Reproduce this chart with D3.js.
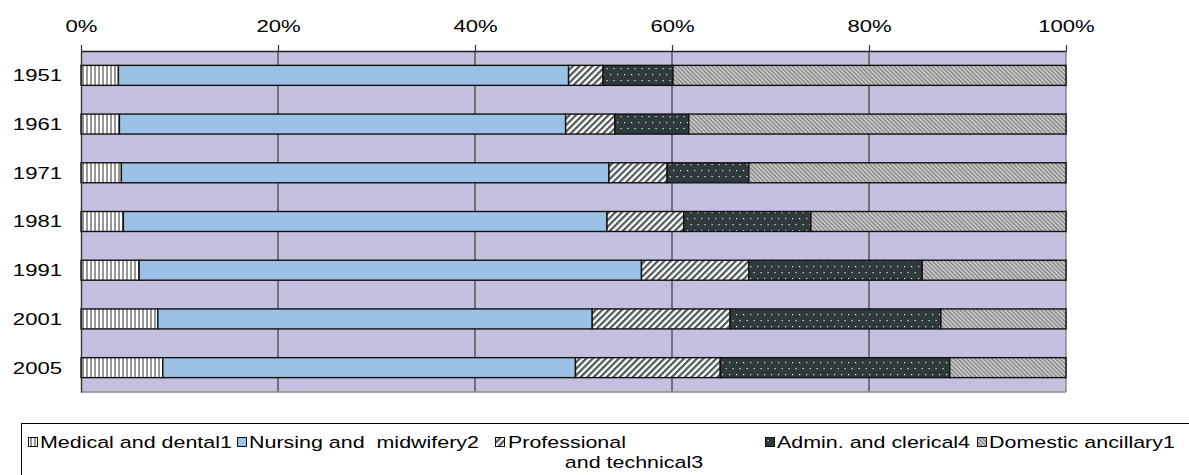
<!DOCTYPE html>
<html>
<head>
<meta charset="utf-8">
<script src="https://cdn.jsdelivr.net/npm/d3@7"></script>
<style>
  html, body { margin: 0; padding: 0; background: #fff; }
  svg { display: block; font-family: "Liberation Sans", Arial, sans-serif; }
  svg text { white-space: pre; }
</style>
</head>
<body>
<svg id="chart" width="1189" height="475"></svg>
<script>
// Staff groups as a share of the total workforce, by year (percent)
const years = ["1951", "1961", "1971", "1981", "1991", "2001", "2005"];
const medical   = [3.8, 3.9, 4.1, 4.3, 5.9, 7.8, 8.3];
const nursing   = [45.7, 45.3, 49.5, 49.1, 51.0, 44.1, 41.9];
const technical = [3.5, 5.0, 5.9, 7.8, 10.9, 14.0, 14.7];
const admin     = [7.1, 7.5, 8.3, 12.9, 17.6, 21.4, 23.3];
const domestic  = [39.9, 38.3, 32.2, 25.9, 14.6, 12.7, 11.8];
const tickValues = [0, 20, 40, 60, 80, 100];
const tickLabels = ["0%", "20%", "40%", "60%", "80%", "100%"];
const seriesNames = ["Medical and dental1", "Nursing and  midwifery2", "Professional\nand technical3",
                     "Admin. and clerical4", "Domestic ancillary1"];

const seriesValues = [medical, nursing, technical, admin, domestic];
const keys = ["med", "nur", "tec", "adm", "dom"];
const rows = years.map((y, i) => {
  const r = { year: y };
  keys.forEach((k, j) => r[k] = seriesValues[j][i]);
  return r;
});

const svg = d3.select("#chart");
const plot = { left: 81, right: 1066, top: 51, bottom: 392 };
const TEXT_STRETCH = "scale(1.3,1)";

// ---- fill patterns ----
const defs = svg.append("defs");
// vertical stripes
const pMed = defs.append("pattern").attr("id", "p-med").attr("patternUnits", "userSpaceOnUse")
  .attr("width", 4).attr("height", 4);
pMed.append("rect").attr("width", 4).attr("height", 4).attr("fill", "#fff");
pMed.append("rect").attr("x", 2).attr("width", 2).attr("height", 4).attr("fill", "#979797");
// wide forward diagonal
const pTec = defs.append("pattern").attr("id", "p-tec").attr("patternUnits", "userSpaceOnUse")
  .attr("width", 4.6).attr("height", 10).attr("patternTransform", "rotate(45)");
pTec.append("rect").attr("width", 4.6).attr("height", 10).attr("fill", "#fff");
pTec.append("rect").attr("width", 2.2).attr("height", 10).attr("fill", "#4f5656");
// dark with white dots
const pAdm = defs.append("pattern").attr("id", "p-adm").attr("patternUnits", "userSpaceOnUse")
  .attr("width", 7).attr("height", 12);
pAdm.append("rect").attr("width", 7).attr("height", 12).attr("fill", "#2f3a3c");
pAdm.append("rect").attr("x", 1).attr("y", 2).attr("width", 1.2).attr("height", 1.2).attr("fill", "#e8e8e8");
pAdm.append("rect").attr("x", 4.5).attr("y", 8).attr("width", 1.2).attr("height", 1.2).attr("fill", "#e8e8e8");
// fine backward diagonal
const pDom = defs.append("pattern").attr("id", "p-dom").attr("patternUnits", "userSpaceOnUse")
  .attr("width", 3).attr("height", 6).attr("patternTransform", "rotate(-45)");
pDom.append("rect").attr("width", 3).attr("height", 6).attr("fill", "#d4d4d4");
pDom.append("rect").attr("width", 1.4).attr("height", 6).attr("fill", "#7e7e7e");

const fills = { med: "url(#p-med)", nur: "#9bc2e6", tec: "url(#p-tec)", adm: "url(#p-adm)", dom: "url(#p-dom)" };

// ---- scales ----
const x = d3.scaleLinear().domain([0, 100]).range([plot.left, plot.right]);
const y = d3.scaleBand().domain(years).range([plot.top, plot.bottom])
  .paddingInner(0.59).paddingOuter(0.295);

// plot background
svg.append("rect")
  .attr("x", plot.left).attr("y", plot.top)
  .attr("width", plot.right - plot.left).attr("height", plot.bottom - plot.top)
  .attr("fill", "#c4c0df");

// vertical gridlines
svg.append("g").selectAll("line").data(tickValues.slice(1, -1)).join("line")
  .attr("x1", d => x(d)).attr("x2", d => x(d))
  .attr("y1", plot.top).attr("y2", plot.bottom)
  .attr("stroke", "#3a3a3a").attr("stroke-width", 1.2);

// right and bottom frame
svg.append("line").attr("x1", x(100)).attr("x2", x(100)).attr("y1", plot.top).attr("y2", plot.bottom)
  .attr("stroke", "#8a8a8a").attr("stroke-width", 1.5);
svg.append("line").attr("x1", plot.left).attr("x2", plot.right).attr("y1", plot.bottom).attr("y2", plot.bottom)
  .attr("stroke", "#8a8a8a").attr("stroke-width", 1.5);

// ---- stacked bars ----
const stacked = d3.stack().keys(keys)(rows);
svg.append("g").selectAll("g").data(stacked).join("g")
  .attr("fill", d => fills[d.key])
  .selectAll("rect").data(d => d).join("rect")
  .attr("x", d => x(d[0]))
  .attr("y", d => y(d.data.year))
  .attr("width", d => x(d[1]) - x(d[0]))
  .attr("height", y.bandwidth())
  .attr("stroke", "#111").attr("stroke-width", 1.4);

// ---- top axis ----
const xAxis = d3.axisTop(x).tickValues(tickValues)
  .tickFormat((d, i) => tickLabels[i]).tickSize(6).tickPadding(13).tickSizeOuter(0);
const gx = svg.append("g").attr("transform", `translate(0,${plot.top})`).call(xAxis);
gx.select(".domain").attr("stroke", "#222").attr("stroke-width", 1.4);
gx.selectAll(".tick line").attr("stroke", "#333").attr("stroke-width", 1.2);
gx.selectAll(".tick text").attr("fill", "#000").attr("font-size", 17)
  .attr("font-family", "Liberation Sans, Arial, sans-serif").attr("transform", TEXT_STRETCH);

// ---- left axis ----
const yAxis = d3.axisLeft(y).tickSize(0).tickPadding(0);
const gy = svg.append("g").attr("transform", `translate(${plot.left},0)`).call(yAxis);
gy.select(".domain").attr("stroke", "#333").attr("stroke-width", 1.4);
gy.selectAll(".tick text").attr("fill", "#000").attr("font-size", 17)
  .attr("font-family", "Liberation Sans, Arial, sans-serif")
  .attr("x", 0).attr("dy", "0.35em")
  .attr("transform", `translate(-19,0) ${TEXT_STRETCH}`);

// ---- legend ----
const legend = svg.append("g");
legend.append("rect").attr("x", 21.5).attr("y", 423.5).attr("width", 1200).attr("height", 100)
  .attr("fill", "#fff").attr("stroke", "#000").attr("stroke-width", 1);

const LEGEND_FONT = 16.5;
const legendItems = [
  { key: "med", x: 28 },
  { key: "nur", x: 237 },
  { key: "tec", x: 495 },
  { key: "adm", x: 765 },
  { key: "dom", x: 977 }
];
const lineY = 448;
legendItems.forEach((it, i) => {
  const g = legend.append("g");
  g.append("rect").attr("x", it.x + 0.5).attr("y", 437.5).attr("width", 9).attr("height", 9)
    .attr("fill", fills[it.key]).attr("stroke", "#111").attr("stroke-width", 1);
  const lines = seriesNames[i].split("\n");
  if (lines.length === 1) {
    g.append("text").attr("transform", `translate(${it.x + 12},${lineY}) ${TEXT_STRETCH}`)
      .attr("font-size", LEGEND_FONT).attr("fill", "#000").text(lines[0]);
  } else {
    g.append("text").attr("transform", `translate(${it.x + 13},${lineY}) ${TEXT_STRETCH}`)
      .attr("font-size", LEGEND_FONT).attr("fill", "#000").text(lines[0]);
    g.append("text").attr("transform", `translate(${it.x + 139},${lineY + 19.5}) ${TEXT_STRETCH}`)
      .attr("font-size", LEGEND_FONT).attr("fill", "#000").attr("text-anchor", "middle").text(lines[1]);
  }
});
</script>
</body>
</html>
